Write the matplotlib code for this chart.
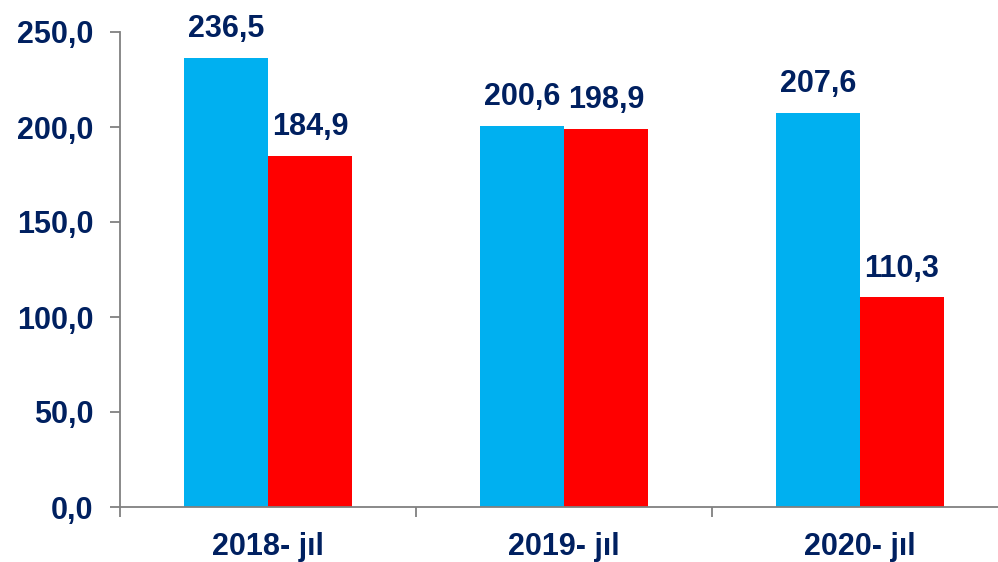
import numpy as np
import matplotlib.pyplot as plt

plt.rcParams['font.family'] = ['Liberation Sans', 'DejaVu Sans']

categories = ["2018- jıl", "2019- jıl", "2020- jıl"]
series_blue = [236.5, 200.6, 207.6]
series_red = [184.9, 198.9, 110.3]
y_ticks = [0, 50, 100, 150, 200, 250]

text_color = "#002060"
axis_color = "#808080"

fig = plt.figure(figsize=(9.98, 5.62), dpi=100)
# axes reaches a bit past the right edge, like the original
ax = fig.add_axes([120 / 998, 55 / 562, 888 / 998, 475 / 562])

x = np.arange(len(categories))
w = 84 / 296
b1 = ax.bar(x - w / 2, series_blue, w, color="#00B0F0")
b2 = ax.bar(x + w / 2, series_red, w, color="#FF0000")

def fmt(v):
    return f"{v:.1f}".replace(".", ",")

for bars in (b1, b2):
    for r in bars:
        h = r.get_height()
        ax.annotate(fmt(h), (r.get_x() + r.get_width() / 2, h),
                    xytext=(0, 10), textcoords="offset points",
                    ha="center", va="bottom", fontsize=22,
                    fontweight="bold", color=text_color)

ax.set_xlim(-0.5, 2.5)
ax.set_ylim(0, 250)
ax.set_yticks(y_ticks)
ax.set_yticklabels([fmt(t) for t in y_ticks])

ax.set_xticks([-0.5, 0.5, 1.5, 2.5])
ax.set_xticklabels([])
ax.set_xticks(x, minor=True)
ax.set_xticklabels(categories, minor=True)

ax.tick_params(axis="y", length=7, width=1.3, color=axis_color, pad=12,
               labelsize=22, labelcolor=text_color)
ax.tick_params(axis="x", which="major", length=7, width=1.3, color=axis_color)
ax.tick_params(axis="x", which="minor", length=0, pad=18,
               labelsize=22, labelcolor=text_color)
for lab in ax.get_yticklabels() + ax.get_xticklabels(minor=True):
    lab.set_fontweight("bold")

for s in ("top", "right"):
    ax.spines[s].set_visible(False)
for s in ("left", "bottom"):
    ax.spines[s].set_color(axis_color)
    ax.spines[s].set_linewidth(1.3)

fig.savefig("out.png", dpi=100)
